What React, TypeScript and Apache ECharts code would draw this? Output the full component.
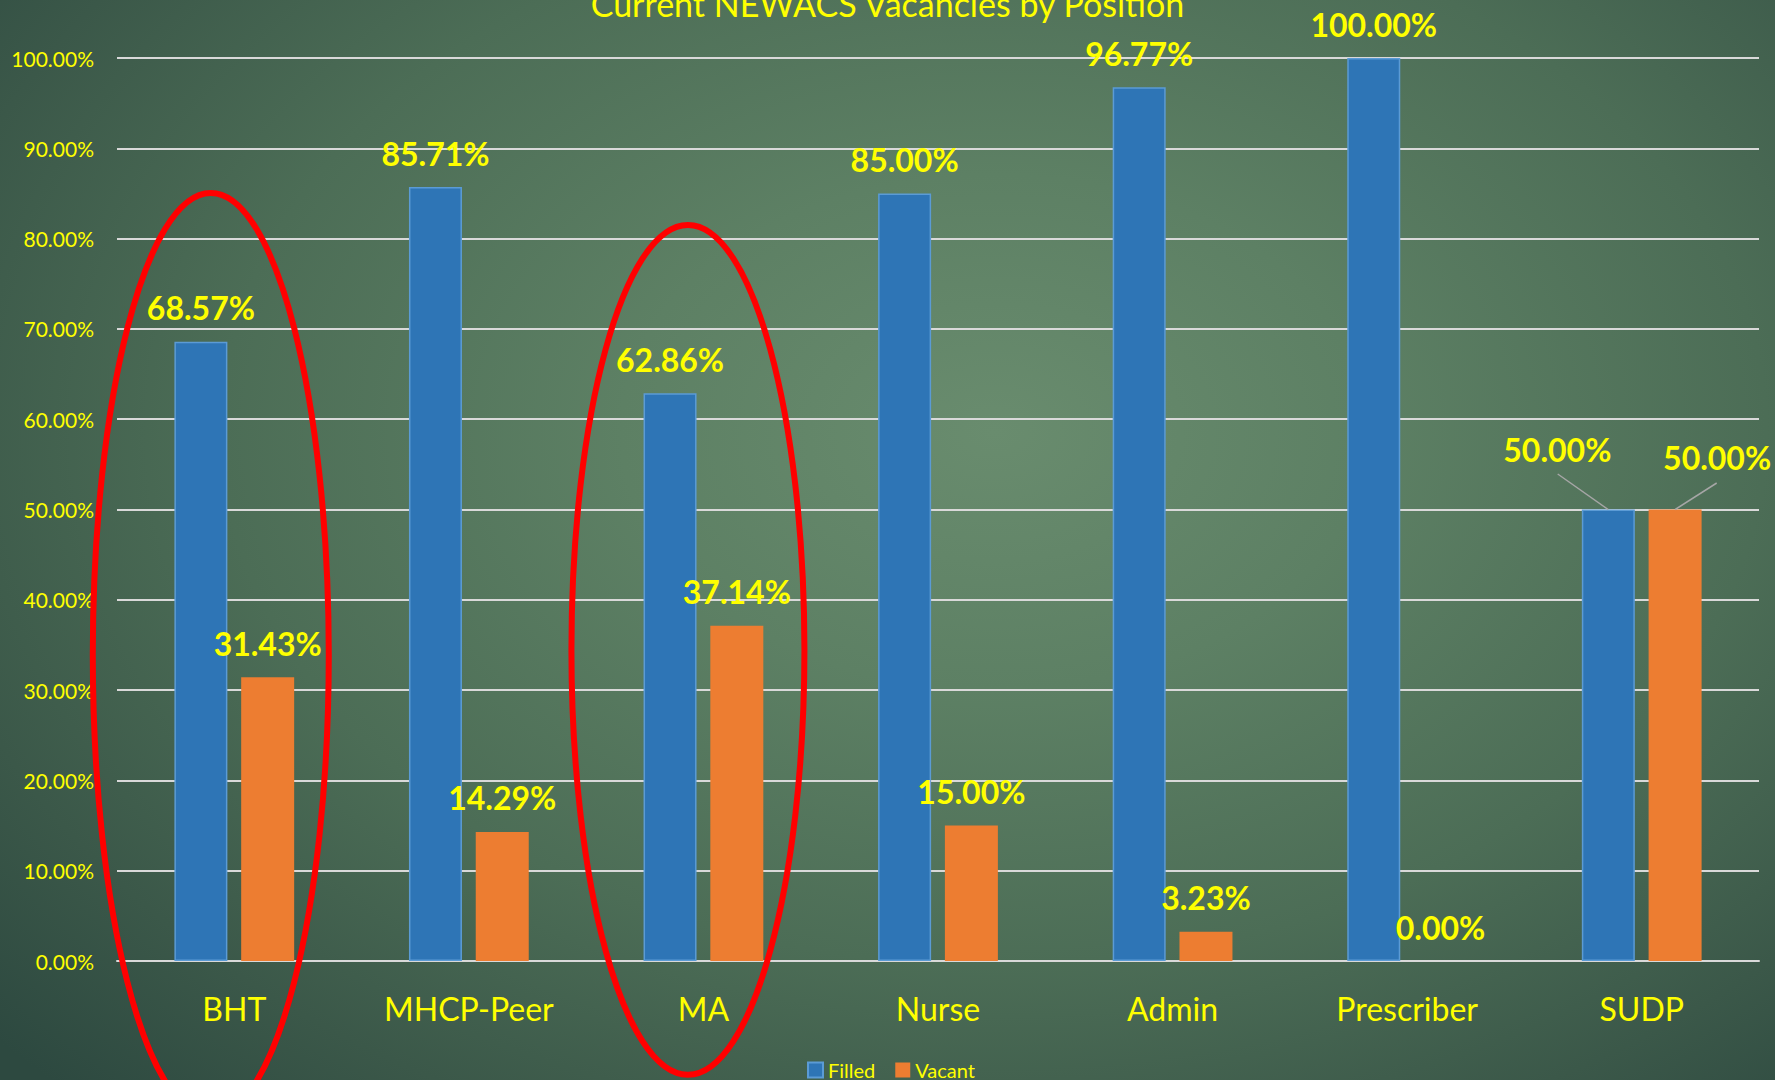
import { useEffect, useRef } from "react";
import * as echarts from "echarts";

// Staffing share per position (fraction of budgeted slots)
const positions = ["BHT", "MHCP-Peer", "MA", "Nurse", "Admin", "Prescriber", "SUDP"];
const filled = [0.6857, 0.8571, 0.6286, 0.85, 0.9677, 1.0, 0.5];
const vacant = [0.3143, 0.1429, 0.3714, 0.15, 0.0323, 0.0, 0.5];
const seriesNames = ["Filled", "Vacant"];
const titleText = "Current NEWACS Vacancies by Position";

// Positions highlighted with a red ring (extent in axis values)
const circled = [
  { position: "BHT", top: 0.8505, bottom: -0.173, dx: -23.5, rx: 118 },
  { position: "MA", top: 0.815, bottom: -0.126, dx: -15.5, rx: 116.5 },
];

// Position whose labels are pulled out with leader lines
const calloutPosition = "SUDP";

const YELLOW = "#ffff00";
const FONT = "Lato, 'Open Sans', 'DejaVu Sans', sans-serif";
const BLUE = "#2e75b6";
const ORANGE = "#ed7d31";

const pct = (v: number) => (v * 100).toFixed(2) + "%";

export default function App() {
  const ref = useRef<HTMLDivElement>(null);

  useEffect(() => {
    const chart = echarts.init(ref.current!, null, { renderer: "svg" });
    const calloutIndex = positions.indexOf(calloutPosition);

    const labelStyle = {
      show: true,
      position: "top",
      distance: 18,
      color: YELLOW,
      fontFamily: FONT,
      fontSize: 32,
      fontWeight: "bold",
      formatter: (p: any) => pct(p.value),
    };

    chart.setOption({
      animation: false,
      backgroundColor: "transparent",
      title: {
        text: titleText,
        left: "center",
        top: -19,
        textStyle: { color: YELLOW, fontFamily: FONT, fontSize: 34, fontWeight: "normal" },
      },
      legend: {
        data: seriesNames,
        left: 807,
        top: 1060,
        padding: 0,
        icon: "rect",
        itemWidth: 15,
        itemHeight: 15,
        itemGap: 20,
        textStyle: { color: YELLOW, fontFamily: FONT, fontSize: 20, lineHeight: 20 },
      },
      grid: { left: 117, right: 16, top: 58, bottom: 119, containLabel: false },
      xAxis: {
        type: "category",
        data: positions,
        axisLine: { show: true, lineStyle: { color: "#d9d9d9", width: 2 } },
        axisTick: { show: false },
        axisLabel: { color: YELLOW, fontFamily: FONT, fontSize: 32, margin: 31 },
      },
      yAxis: {
        type: "value",
        min: 0,
        max: 1,
        interval: 0.1,
        axisLine: { show: false },
        axisTick: { show: false },
        axisLabel: {
          color: YELLOW,
          fontFamily: FONT,
          fontSize: 21,
          margin: 23,
          formatter: (v: number) => pct(v),
        },
        splitLine: { lineStyle: { color: "#d9d9d9", width: 2 } },
      },
      series: [
        {
          name: seriesNames[0],
          type: "bar",
          data: filled,
          barWidth: 53,
          barGap: "26%",
          itemStyle: { color: BLUE, borderColor: "#5b9bd5", borderWidth: 1.5 },
          label: labelStyle,
          labelLayout: (p: any) => (p.dataIndex === calloutIndex ? { dx: -51, dy: -26 } : {}),
        },
        {
          name: seriesNames[1],
          type: "bar",
          data: vacant,
          barWidth: 53,
          barGap: "26%",
          itemStyle: { color: ORANGE },
          label: labelStyle,
          labelLayout: (p: any) => (p.dataIndex === calloutIndex ? { dx: 42, dy: -18 } : {}),
        },
      ],
    });

    // Annotation overlay: red rings and SUDP leader lines
    const xOf = (cat: string) => chart.convertToPixel({ xAxisIndex: 0 }, cat) as number;
    const yOf = (v: number) => chart.convertToPixel({ yAxisIndex: 0 }, v) as number;
    const barOffset = 33.5;

    const rings = circled.map((c) => {
      const yTop = yOf(c.top);
      const yBottom = yOf(c.bottom);
      return {
        type: "ellipse",
        silent: true,
        z: 100,
        shape: {
          cx: xOf(c.position) + c.dx,
          cy: (yTop + yBottom) / 2,
          rx: c.rx,
          ry: (yBottom - yTop) / 2,
        },
        style: { fill: "none", stroke: "#ff0000", lineWidth: 6 },
      };
    });

    const cx = xOf(calloutPosition);
    const blueTop = [cx - barOffset, yOf(filled[calloutIndex])];
    const orangeTop = [cx + barOffset, yOf(vacant[calloutIndex])];
    const leaders = [
      { from: blueTop, to: [blueTop[0] - 50.5, blueTop[1] - 35.5] },
      { from: orangeTop, to: [orangeTop[0] + 41.5, orangeTop[1] - 26.5] },
    ].map((l) => ({
      type: "line",
      silent: true,
      z: 90,
      shape: { x1: l.from[0], y1: l.from[1], x2: l.to[0], y2: l.to[1] },
      style: { stroke: "#a6a6a6", lineWidth: 1.5 },
    }));

    chart.setOption({ graphic: [...rings, ...leaders] });

    return () => chart.dispose();
  }, []);

  return (
    <div
      ref={ref}
      style={{
        position: "absolute",
        left: 0,
        top: 0,
        width: 1775,
        height: 1080,
        background:
          "radial-gradient(ellipse 75% 85% at 56% 40%, #698c6e 0%, #5d8064 28%, #4c6d56 58%, #3b5849 82%, #2d4940 100%)",
      }}
    />
  );
}
